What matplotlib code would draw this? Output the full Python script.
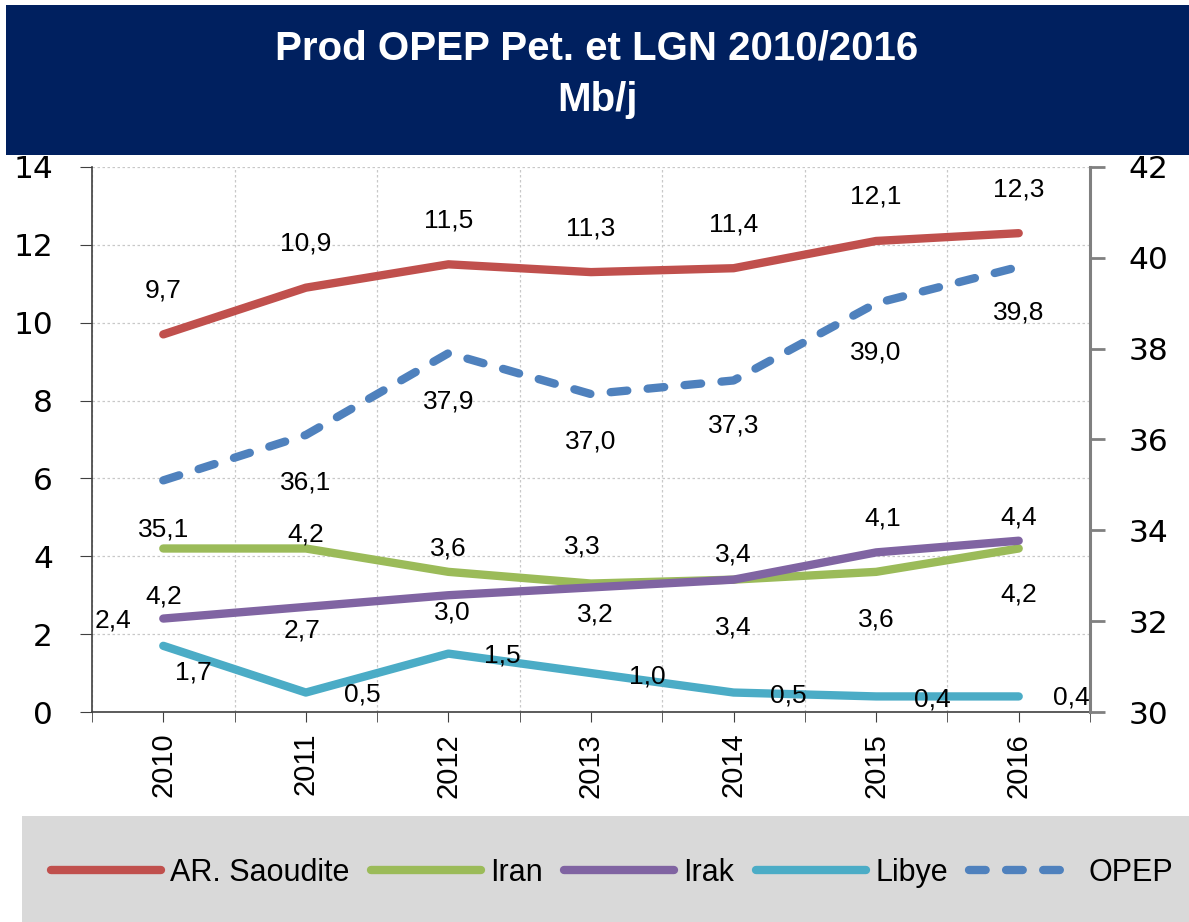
import numpy as np
import matplotlib
matplotlib.use("Agg")
import matplotlib.pyplot as plt
from matplotlib.patches import Rectangle

# data (Mb/j)
years = ["2010", "2011", "2012", "2013", "2014", "2015", "2016"]
saoudite = [9.7, 10.9, 11.5, 11.3, 11.4, 12.1, 12.3]
iran = [4.2, 4.2, 3.6, 3.3, 3.4, 3.6, 4.2]
irak = [2.4, 2.7, 3.0, 3.2, 3.4, 4.1, 4.4]
libye = [1.7, 0.5, 1.5, 1.0, 0.5, 0.4, 0.4]
opep = [35.1, 36.1, 37.9, 37.0, 37.3, 39.0, 39.8]  # right axis

# label offsets in pixels (dx, dy, dy positive = downwards)
off_saoudite = [(0, -44)] * 7
off_opep = [(0, 49), (0, 48), (0, 48), (0, 47), (0, 45), (0, 49), (0, 46)]
off_iran = [(0, 48), (0, -14), (0, -23), (-9, -37), (0, -25), (0, 48), (0, 46)]
off_irak = [(-50, 2), (-4, 24), (4, 17), (4, 27), (0, 48), (7, -34), (0, -23)]
off_libye = [(30, 27), (56, 2), (54, 2), (56, 3), (55, 3), (56, 3), (53, 1)]

W, H = 1189, 922
fig = plt.figure(figsize=(W / 100, H / 100), dpi=100)
ax = fig.add_axes([92 / W, 1 - 712 / H, (1090 - 92) / W, (712 - 167) / H])
ax2 = ax.twinx()

x = np.arange(len(years))
lw = 6
ax.plot(x, saoudite, color="#C0504D", lw=lw, solid_capstyle="round", label="AR. Saoudite")
ax.plot(x, iran, color="#9BBB59", lw=lw, solid_capstyle="round", label="Iran")
ax.plot(x, irak, color="#8064A2", lw=lw, solid_capstyle="round", label="Irak")
ax.plot(x, libye, color="#4BACC6", lw=lw, solid_capstyle="round", label="Libye")
ax2.plot(x, opep, color="#4F81BD", lw=lw, dashes=(2.0, 2.45), dash_capstyle="round", label="OPEP")


def put_labels(a, vals, offs):
    for xi, v, (dx, dy) in zip(x, vals, offs):
        a.annotate(f"{v:.1f}".replace(".", ","), (xi, v), xytext=(dx * 0.72, -dy * 0.72),
                   textcoords="offset points", ha="center", va="center",
                   fontsize=19, family="Liberation Sans", color="black")


put_labels(ax, saoudite, off_saoudite)
put_labels(ax, iran, off_iran)
put_labels(ax, irak, off_irak)
put_labels(ax, libye, off_libye)
put_labels(ax2, opep, off_opep)

# axes
ax.set_xlim(-0.5, 6.5)
ax.set_ylim(0, 14)
ax.set_yticks(np.arange(0, 15, 2))
ax2.set_ylim(30, 42)
ax2.set_yticks(np.arange(30, 43, 2))
ax.set_xticks(x)
ax.set_xticklabels(years, rotation=90, fontsize=21, family="Liberation Sans")
ax.set_xticks(np.arange(-0.5, 7, 1), minor=True)

ax.grid(axis="y", which="major", color="#c8c8c8", ls=(0, (2, 2)), lw=0.9)
ax.grid(axis="x", which="minor", color="#c8c8c8", ls=(0, (2, 2)), lw=0.9)
ax.set_axisbelow(True)

for s in ["top", "right"]:
    ax.spines[s].set_visible(False)
for s in ["top", "left", "bottom"]:
    ax2.spines[s].set_visible(False)
ax.spines["left"].set_color("#404040")
ax.spines["bottom"].set_color("#404040")
ax.spines["left"].set_linewidth(1.2)
ax.spines["bottom"].set_linewidth(1.2)
ax2.spines["right"].set_color("#808080")
ax2.spines["right"].set_linewidth(2.2)

ax.tick_params(axis="y", labelsize=22.5, length=9, color="#404040", pad=19)
ax.tick_params(axis="x", which="both", length=7, color="#404040", pad=8)
ax2.tick_params(axis="y", labelsize=22.5, length=11, width=2, color="#808080", pad=17)
for lab in ax.get_yticklabels() + ax2.get_yticklabels():
    lab.set_family("DejaVu Sans")

# title banner
fig.add_artist(Rectangle((6 / W, 1 - 155 / H), 1 - 6 / W, 150 / H, transform=fig.transFigure,
                         facecolor="#00205F", edgecolor="none", zorder=5))
fig.text(597 / W, 1 - 49 / H, "Prod OPEP Pet. et LGN 2010/2016", color="white", fontsize=29,
         fontweight="bold", family="Liberation Sans", ha="center", va="center", zorder=6)
fig.text(597 / W, 1 - 100 / H, "Mb/j", color="white", fontsize=29,
         fontweight="bold", family="Liberation Sans", ha="center", va="center", zorder=6)

# legend box
fig.add_artist(Rectangle((22 / W, 0), 1 - 22 / W, (922 - 816) / H, transform=fig.transFigure,
                         facecolor="#D9D9D9", edgecolor="none", zorder=0))
h1, l1 = ax.get_legend_handles_labels()
h2, l2 = ax2.get_legend_handles_labels()
fig.legend(h1 + h2, l1 + l2, loc="center", bbox_to_anchor=(612 / W, 1 - 873 / H), ncol=5,
           frameon=False, prop={"family": "Liberation Sans", "size": 22},
           handlelength=3.6, handletextpad=0.3, columnspacing=0.7, borderpad=0)

fig.savefig("out.png", dpi=100)
